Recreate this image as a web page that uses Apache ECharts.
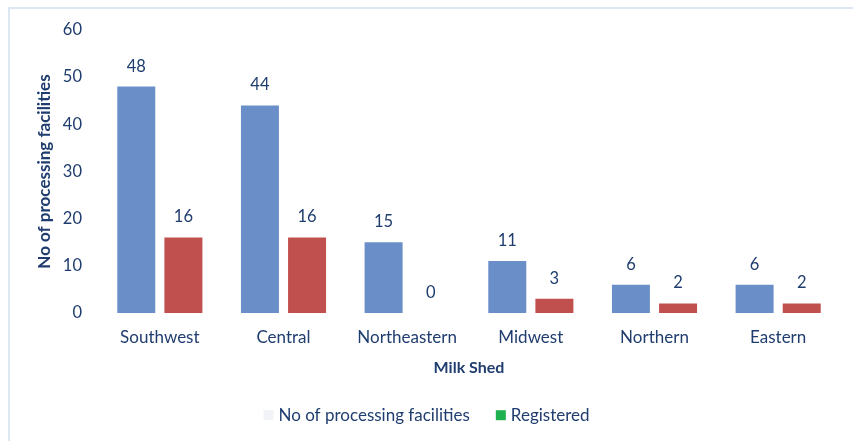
<!DOCTYPE html>
<html>
  <head>
    <title>milk shed</title>
    <script src="https://cdn.jsdelivr.net/npm/echarts@6/dist/echarts.min.js"></script>
    <style>
      body { margin: 0; background: #fff; }
    </style>
  </head>
  <body>
    <div id="main" style="width: 853px; height: 441px"></div>
    <script>
      var categories = ["Southwest", "Central", "Northeastern", "Midwest", "Northern", "Eastern"];
      var facilities = [48, 44, 15, 11, 6, 6];
      var registered = [16, 16, 0, 3, 2, 2];
      var yTicks = [0, 10, 20, 30, 40, 50, 60];

      var textColor = "#1f3d6e";
      var font = "Lato";
      var myChart = echarts.init(document.getElementById("main"));

      var label = {
        show: true,
        position: "top",
        distance: 8,
        color: textColor,
        fontFamily: font,
        fontSize: 16.5
      };

      var option = {
        animation: false,
        graphic: [
          {
            type: "rect",
            shape: { x: 9, y: 8, width: 900, height: 500 },
            style: { fill: "none", stroke: "#dde7f3", lineWidth: 2 }
          }
        ],
        grid: { left: 98, right: 13, top: 30, bottom: 128 },
        legend: {
          bottom: 8,
          left: "center",
          itemGap: 26,
          itemWidth: 10,
          itemHeight: 10,
          textStyle: { color: textColor, fontFamily: font, fontSize: 17 },
          data: [
            { name: "No of processing facilities", icon: "rect", itemStyle: { color: "#f1f3f6" } },
            { name: "Registered", icon: "rect", itemStyle: { color: "#1fb14f" } }
          ]
        },
        xAxis: {
          type: "category",
          data: categories,
          name: "Milk Shed",
          nameLocation: "middle",
          nameGap: 41,
          nameTextStyle: { color: textColor, fontFamily: font, fontSize: 16, fontWeight: "bold" },
          axisLine: { show: false },
          axisTick: { show: false },
          axisLabel: { color: textColor, fontFamily: font, fontSize: 17, margin: 12, interval: 0 }
        },
        yAxis: {
          type: "value",
          min: yTicks[0],
          max: yTicks[yTicks.length - 1],
          interval: 10,
          name: "No of processing facilities",
          nameLocation: "middle",
          nameGap: 40,
          nameMoveOverlap: false,
          nameTextStyle: { color: textColor, fontFamily: font, fontSize: 17, fontWeight: "bold" },
          splitLine: { show: false },
          axisLine: { show: false },
          axisTick: { show: false },
          axisLabel: { color: textColor, fontFamily: font, fontSize: 16.5, margin: 16 }
        },
        series: [
          {
            name: "No of processing facilities",
            type: "bar",
            data: facilities,
            barWidth: 38,
            barGap: "24%",
            itemStyle: { color: "#6a8fc8" },
            label: label
          },
          {
            name: "Registered",
            type: "bar",
            data: registered,
            barWidth: 38,
            itemStyle: { color: "#c0504d" },
            label: label
          }
        ]
      };

      myChart.setOption(option);
    </script>
  </body>
</html>
